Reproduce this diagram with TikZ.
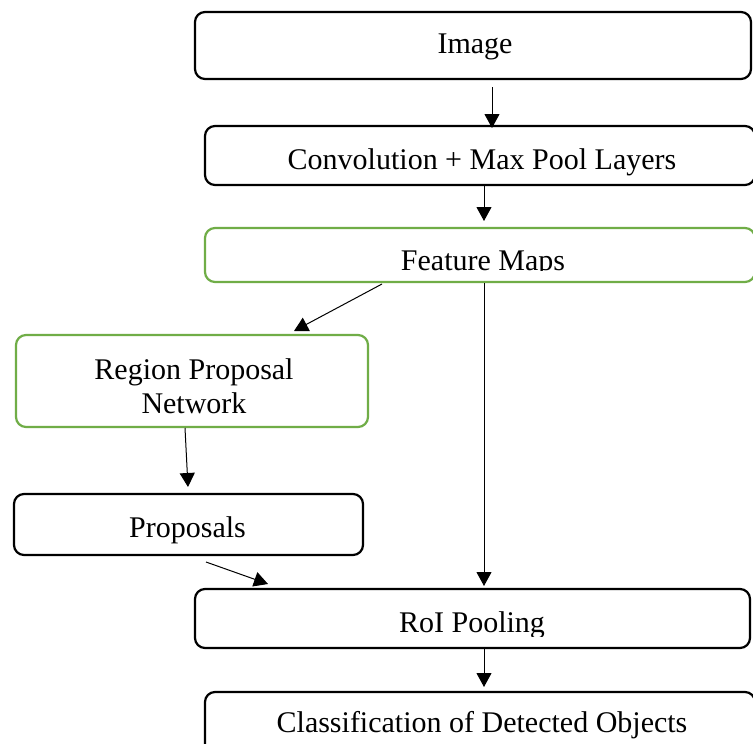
\documentclass[tikz,border=0pt]{standalone}
\usepackage{fontspec}
\setmainfont{Liberation Serif}
\usetikzlibrary{arrows.meta}
\definecolor{boxgreen}{RGB}{112,173,71}
\tikzset{
  box/.style={draw=black, line width=2.2pt, rounded corners=10pt, inner sep=0pt, fill=none},
  gbox/.style={box, draw=boxgreen},
  lbl/.style={inner sep=0pt, anchor=base, font=\fontsize{30}{35}\selectfont},
  conn/.style={line width=1pt, -{Triangle[length=14pt,width=15pt]}}
}
\begin{document}
\begin{tikzpicture}[x=1pt,y=-1pt]
\clip (0,0) rectangle (753,744);
\fill[white] (0,0) rectangle (753,744);
% boxes
\node[box, minimum width=556pt, minimum height=67pt] (img) at (473,45.5) {};
\node[box, minimum width=550pt, minimum height=59pt] (conv) at (480,155.5) {};
\node[gbox, minimum width=550pt, minimum height=54pt] (fm) at (480,255) {};
\node[gbox, minimum width=352pt, minimum height=92pt] (rpn) at (192,381) {};
\node[box, minimum width=349pt, minimum height=61pt] (prop) at (188.5,524.5) {};
\node[box, minimum width=555pt, minimum height=59pt] (roi) at (472.5,618.5) {};
\node[box, minimum width=550pt, minimum height=68pt] (cls) at (480,726) {};
% texts
\node[lbl] (imgt) at (475,53) {Image};
\node[lbl] (convt) at (482,169) {Convolution + Max Pool Layers};
\begin{scope}
\clip (205,228) rectangle (755,270);
\node[lbl] (fmt) at (483,270) {Feature Maps};
\end{scope}
\node[lbl] (rpnt1) at (194,379) {Region Proposal};
\node[lbl] (rpnt2) at (194,413) {Network};
\node[lbl] (propt) at (187.5,537) {Proposals};
\begin{scope}
\clip (195,589) rectangle (750,636);
\node[lbl] (roit) at (472,632) {RoI Pooling};
\end{scope}
\node[lbl] (clst) at (482,732) {Classification of Detected Objects};
% connector end points
\coordinate (a1s) at (492,87);  \coordinate (a1e) at (492,128);
\coordinate (a2s) at (484,186); \coordinate (a2e) at (484,221);
\coordinate (a3s) at (382,284); \coordinate (a3e) at (294,331);
\coordinate (a4s) at (185,428); \coordinate (a4e) at (188,487);
\coordinate (a5s) at (206,562); \coordinate (a5e) at (268,584);
\coordinate (a6s) at (484,283); \coordinate (a6e) at (484,586);
\coordinate (a7s) at (484,648); \coordinate (a7e) at (484,687);
% connectors
\draw[conn] (a1s) -- (a1e);
\draw[conn] (a2s) -- (a2e);
\draw[conn] (a3s) -- (a3e);
\draw[conn] (a4s) -- (a4e);
\draw[conn] (a5s) -- (a5e);
\draw[conn] (a6s) -- (a6e);
\draw[conn] (a7s) -- (a7e);
\end{tikzpicture}
\end{document}
